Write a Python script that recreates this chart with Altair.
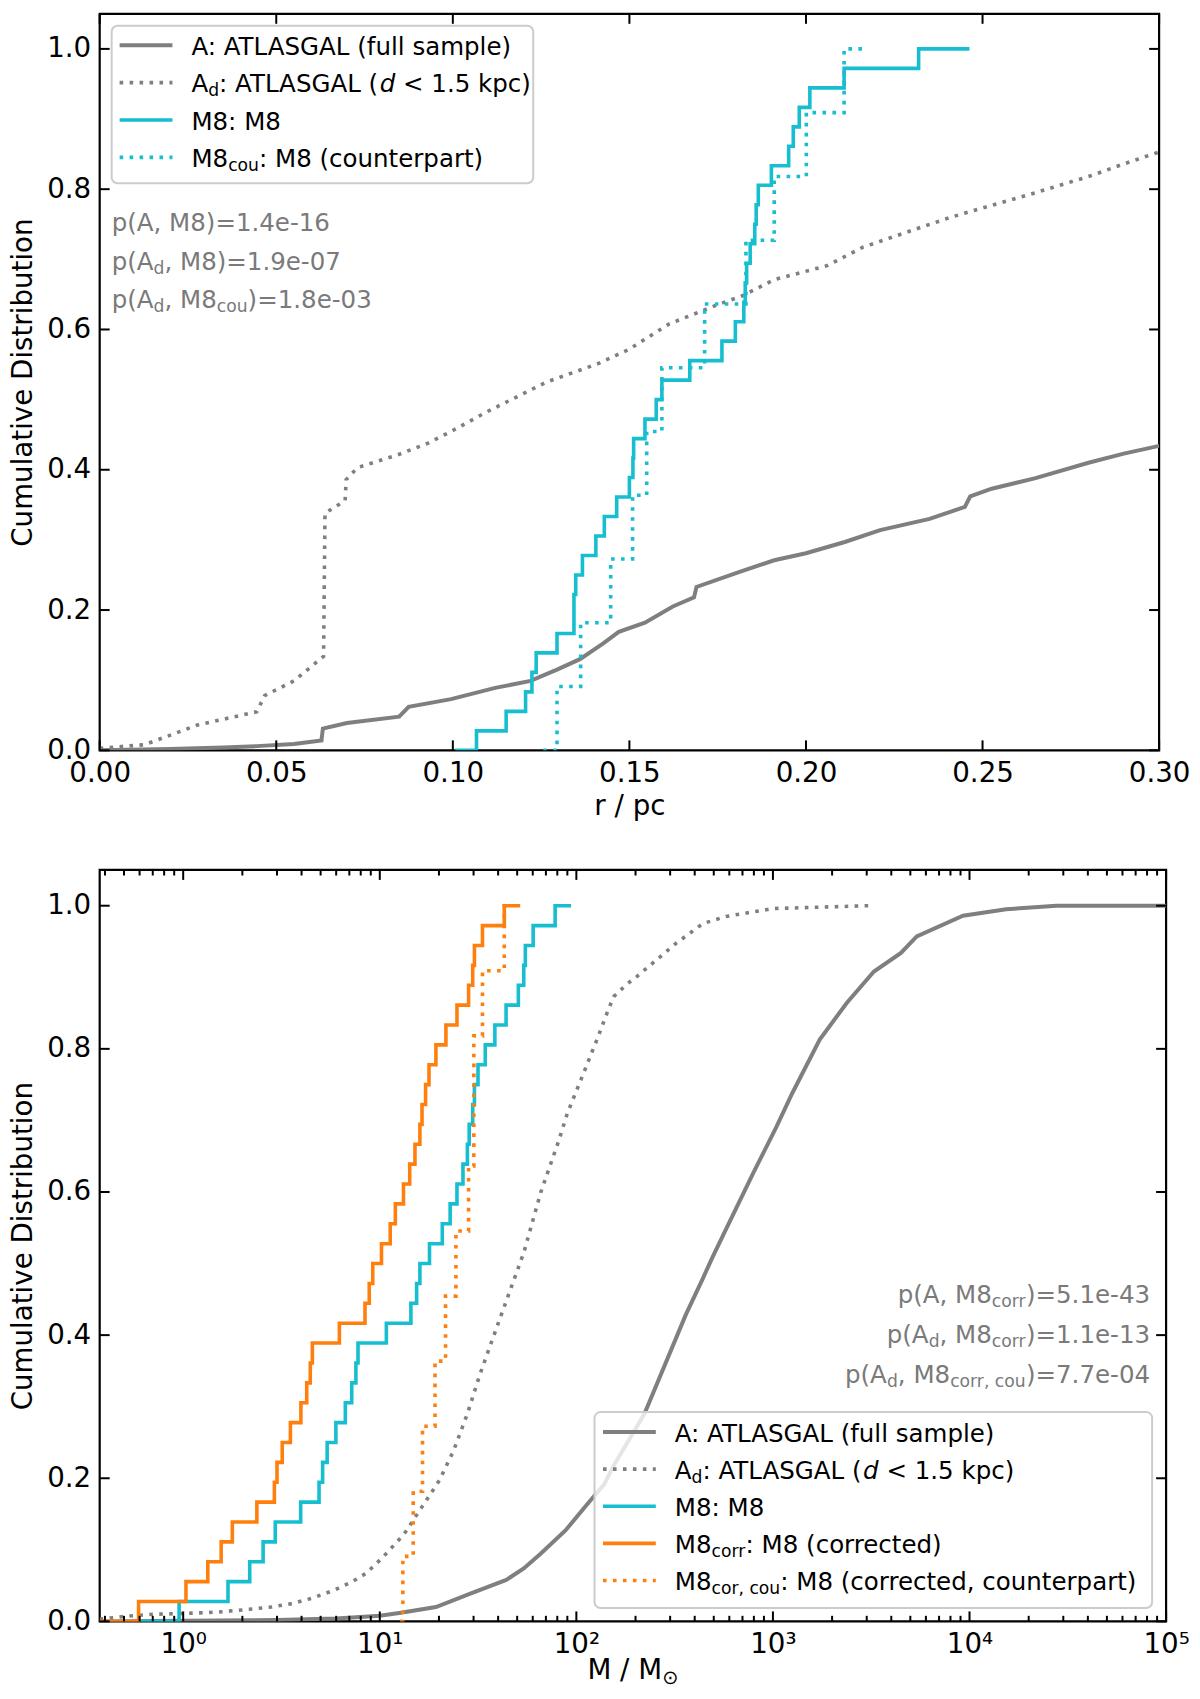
import altair as alt
import pandas as pd

# ── Colours / styles ────────────────────────────────────────────────────────
GRAY, CYAN, ORANGE = "#7f7f7f", "#17becf", "#ff7f0e"
PTEXT = "#7a7a7a"
DOT = [3.6, 6.4]
FONT = "DejaVu Sans"
LAB = 27.8   # tick labels / axis titles (px)
LEG = 24.6   # legend and p-value text (px)
LW, LWA = 3.6, 4.0

# ── Top panel: radius ───────────────────────────────────────────────────────
r_A = [0.0, 0.02, 0.035, 0.0445, 0.055, 0.0628, 0.0632, 0.070, 0.0848, 0.0875,
       0.0995, 0.112, 0.122, 0.1295, 0.136, 0.1425, 0.147, 0.1544, 0.1623, 0.1683,
       0.169, 0.181, 0.191, 0.200, 0.211, 0.221, 0.235, 0.245, 0.2465, 0.2526,
       0.265, 0.28, 0.29, 0.30]
cdf_rA = [0.0, 0.002, 0.004, 0.006, 0.009, 0.014, 0.031, 0.039, 0.048, 0.062,
          0.073, 0.089, 0.099, 0.115, 0.13, 0.152, 0.169, 0.182, 0.205, 0.218,
          0.233, 0.254, 0.271, 0.281, 0.297, 0.314, 0.330, 0.347, 0.362, 0.373,
          0.388, 0.41, 0.423, 0.434]

r_Ad = [0.0, 0.0127, 0.0276, 0.0445, 0.0467, 0.055, 0.0634, 0.0638, 0.0695, 0.0698,
        0.073, 0.0848, 0.093, 0.100, 0.1096, 0.1265, 0.1415, 0.150, 0.1613, 0.1743,
        0.182, 0.191, 0.206, 0.216, 0.231, 0.241, 0.2526, 0.265, 0.28, 0.29, 0.30]
cdf_rAd = [0.003, 0.008, 0.036, 0.055, 0.078, 0.099, 0.134, 0.338, 0.356, 0.386,
           0.403, 0.422, 0.438, 0.456, 0.4825, 0.525, 0.552, 0.572, 0.608, 0.634,
           0.648, 0.671, 0.691, 0.717, 0.743, 0.760, 0.777, 0.795, 0.818, 0.836, 0.853]

r_M8 = [0.1067, 0.1151, 0.1206, 0.1224, 0.1236, 0.1295, 0.1343, 0.1343, 0.1348,
        0.1367, 0.1405, 0.1429, 0.1464, 0.1500, 0.1510, 0.1512, 0.1544, 0.1576,
        0.1592, 0.1671, 0.1762, 0.1800, 0.1824, 0.1828, 0.1832, 0.1842, 0.1855,
        0.1859, 0.1865, 0.1902, 0.1951, 0.1964, 0.1981, 0.2011, 0.2108, 0.2319]
r_M8_span = [0.1007, 0.2463]
r_M8cou = [0.1295, 0.1362, 0.1447, 0.1509, 0.1549, 0.1592, 0.1713, 0.1830,
           0.1910, 0.2001, 0.2108]
r_M8cou_span = [0.1256, 0.2173]

# ── Bottom panel: mass ──────────────────────────────────────────────────────
m_A = [0.376, 1.0, 3.0, 6.0, 10.0, 12.8, 19.3, 29.1, 44, 54, 66, 88, 113, 139, 155,
       222, 361, 438, 491, 575, 796, 1046, 1254, 1730, 2373, 3265, 4480, 5390,
       9270, 15350, 27700, 100000]
cdf_mA = [0.0, 0.001, 0.002, 0.004, 0.008, 0.012, 0.020, 0.039, 0.058, 0.074,
          0.095, 0.127, 0.163, 0.192, 0.218, 0.290, 0.429, 0.478, 0.508, 0.547,
          0.627, 0.692, 0.738, 0.813, 0.864, 0.908, 0.934, 0.957, 0.986, 0.995,
          1.0, 1.0]

m_Ad = [0.376, 0.5, 0.7, 1.0, 1.5, 2.0, 2.8, 3.6, 4.6, 5.9, 7.2, 8.5, 10.4, 13.3,
        16.4, 20.1, 23.7, 27.9, 32.3, 38.8, 45.8, 54, 66, 81, 90, 107, 129, 145,
        155, 180, 203, 255, 320, 440, 577, 1000, 3055]
cdf_mAd = [0.003, 0.007, 0.010, 0.011, 0.013, 0.016, 0.020, 0.025, 0.033, 0.044,
           0.055, 0.067, 0.090, 0.122, 0.160, 0.197, 0.238, 0.290, 0.345, 0.406,
           0.461, 0.515, 0.600, 0.670, 0.710, 0.761, 0.817, 0.854, 0.873, 0.890,
           0.901, 0.924, 0.947, 0.975, 0.985, 0.996, 1.0]

m_M8 = [0.953, 1.69, 2.18, 2.55, 2.94, 3.96, 4.91, 5.12, 5.40, 5.98, 6.68, 7.20,
        7.56, 7.75, 10.8, 14.4, 15.4, 16.0, 17.9, 20.8, 22.8, 24.7, 26.5, 27.9,
        28.5, 29.7, 30.3, 31.6, 34.4, 38.5, 43.9, 50.7, 54.0, 55.0, 60.3, 78.0]
m_M8_span = [0.61, 94]
m_M8corr = [0.593, 1.033, 1.334, 1.56, 1.778, 2.37, 2.91, 3.0, 3.19, 3.51, 3.97,
            4.25, 4.43, 4.54, 6.23, 8.41, 8.84, 9.21, 10.2, 11.3, 12.0, 13.2, 14.2,
            15.1, 16.0, 16.4, 17.1, 17.8, 19.3, 21.7, 24.7, 28.3, 29.7, 30.3, 33.3, 43.0]
m_M8corr_span = [0.376, 51.8]
m_M8corrcou = [13.1, 14.8, 16.5, 19.1, 21.6, 24.4, 28.3, 30.1, 30.1, 33.3, 43.0]
m_M8corrcou_span = [12.7, 46.0]

# ── Ticks ───────────────────────────────────────────────────────────────────
r_ticks = [0.0, 0.05, 0.10, 0.15, 0.20, 0.25, 0.30]
cdf_ticks = [0.0, 0.2, 0.4, 0.6, 0.8, 1.0]
m_ticks = [1, 10, 100, 1000, 10000, 100000]
m_minor = [k * 10.0 ** e for e in range(-1, 5) for k in range(2, 10)
           if 0.376 <= k * 10.0 ** e < 1e5]

# DejaVu Sans advance widths (units/em = 2048), to place sub-/italic pieces
ADV = {" ": 651, "(": 799, ")": 799, ",": 651, "-": 739, ".": 651, "/": 690,
       ":": 690, "<": 1716, "=": 1716, "A": 1401, "G": 1589, "L": 1141, "M": 1767,
       "S": 1300, "T": 1251, "a": 1255, "c": 1126, "d": 1300, "e": 1260, "f": 721,
       "k": 1186, "l": 569, "m": 1995, "n": 1298, "o": 1253, "p": 1300, "r": 842,
       "s": 1067, "t": 803, "u": 1298, "i": 569, "\u2299": 1716}
for ch in "0123456789":
    ADV[ch] = 1303


def tw(s, size):
    return sum(ADV.get(c, 1300) for c in s) * size / 2048


def rich(pieces, x, y, size, color, anchor="left"):
    """pieces: (text, kind) with kind n=normal, s=subscript, i=italic"""
    sizes = [size * 0.7 if k == "s" else size for _, k in pieces]
    if anchor == "right":
        x -= sum(tw(t, fs) for (t, _), fs in zip(pieces, sizes))
    rows = []
    for (t, k), fs in zip(pieces, sizes):
        lead = len(t) - len(t.lstrip(" "))
        x += tw(" " * lead, fs)
        t = t.lstrip(" ")
        rows.append(dict(px=x, py=y + (0.16 * size if k == "s" else 0), text=t,
                         size=fs, color=color, italic=(k == "i")))
        x += tw(t, fs)
    return rows


def curve(xs, ys, color, width, X, Y, dash=None, step=False):
    df = pd.DataFrame({"x": xs, "y": ys, "i": range(len(xs))})
    kw = dict(color=color, strokeWidth=width, clip=True,
              interpolate="step-after" if step else "linear")
    if dash:
        kw.update(strokeDash=dash, strokeCap="butt")
    return alt.Chart(df).mark_line(**kw).encode(x=X("x"), y=Y("y"), order="i:Q")


def ecdf(vals, span, color, width, X, Y, dash=None):
    n = len(vals)
    xs = [span[0]] + sorted(vals) + [span[1]]
    ys = [0.0] + [(k + 1) / n for k in range(n)] + [1.0]
    return curve(xs, ys, color, width, X, Y, dash=dash, step=True)


def frame_ticks(xvals, yvals, X, Y, W, H, L):
    rule = dict(color="black", strokeWidth=2)
    out = []
    if xvals:
        dx = alt.Chart(pd.DataFrame({"x": xvals}))
        out += [dx.mark_rule(**rule).encode(x=X("x"), y=alt.value(H), y2=alt.value(H - L)),
                dx.mark_rule(**rule).encode(x=X("x"), y=alt.value(0), y2=alt.value(L))]
    if yvals:
        dy = alt.Chart(pd.DataFrame({"y": yvals}))
        out += [dy.mark_rule(**rule).encode(y=Y("y"), x=alt.value(0), x2=alt.value(L)),
                dy.mark_rule(**rule).encode(y=Y("y"), x=alt.value(W), x2=alt.value(W - L))]
    return out


one = alt.Chart(pd.DataFrame({"a": [0]}))


def legend(box, x1, x2, yc0, step, styles):
    out = [one.mark_rect(fill="white", fillOpacity=0.8, stroke="#cccccc",
                         strokeWidth=2, cornerRadius=6).encode(
        x=alt.value(box[0]), x2=alt.value(box[2]), y=alt.value(box[1]), y2=alt.value(box[3]))]
    for k, (c, w, d) in enumerate(styles):
        kw = dict(color=c, strokeWidth=w)
        if d:
            kw.update(strokeDash=d, strokeCap="butt")
        out.append(one.mark_rule(**kw).encode(
            x=alt.value(x1), x2=alt.value(x2), y=alt.value(yc0 + k * step)))
    return out


def texts(rows):
    return [one.mark_text(align="left", baseline="alphabetic", font=FONT,
                          fontStyle="italic" if r["italic"] else "normal",
                          fontSize=r["size"], color=r["color"]).encode(
        x=alt.value(r["px"]), y=alt.value(r["py"]), text=alt.value(r["text"]))
        for r in rows]


AX = dict(ticks=False, domain=False, grid=False, labelFlush=False, labelOverlap=False)
YS = alt.Scale(domain=[0, 1.05], nice=False, zero=False)
ax_y = alt.Axis(values=cdf_ticks, format=".1f", title="Cumulative Distribution",
                labelPadding=9, titlePadding=9, **AX)


def Y(f):
    return alt.Y(f"{f}:Q", scale=YS, axis=ax_y)


# ── Top chart ───────────────────────────────────────────────────────────────
W1, H1 = 1063, 739
XR = alt.Scale(domain=[0, 0.30], nice=False, zero=False)
ax_r = alt.Axis(values=r_ticks, format=".2f", title="r / pc",
                labelPadding=9, titlePadding=6, **AX)


def XRe(f):
    return alt.X(f"{f}:Q", scale=XR, axis=ax_r)


ad_lbl = [("A", "n"), ("d", "s"), (": ATLASGAL (", "n"), ("d", "i"), (" < 1.5 kpc)", "n")]
rows_top = []
top_entries = [[("A: ATLASGAL (full sample)", "n")], ad_lbl, [("M8: M8", "n")],
               [("M8", "n"), ("cou", "s"), (": M8 (counterpart)", "n")]]
for k, e in enumerate(top_entries):
    rows_top += rich(e, 92, 31.5 + 37.5 * k + 9.6, LEG, "black")
top_p = [[("p(A, M8)=1.4e-16", "n")],
         [("p(A", "n"), ("d", "s"), (", M8)=1.9e-07", "n")],
         [("p(A", "n"), ("d", "s"), (", M8", "n"), ("cou", "s"), (")=1.8e-03", "n")]]
for k, e in enumerate(top_p):
    rows_top += rich(e, 12, 218 + 38.7 * k, LEG, PTEXT)

top = alt.layer(
    curve(r_A, cdf_rA, GRAY, LWA, XRe, Y),
    curve(r_Ad, cdf_rAd, GRAY, LW, XRe, Y, dash=DOT),
    ecdf(r_M8, r_M8_span, CYAN, LW, XRe, Y),
    ecdf(r_M8cou, r_M8cou_span, CYAN, LW, XRe, Y, dash=DOT),
    *frame_ticks(r_ticks, cdf_ticks, XRe, Y, W1, H1, 10),
    *legend((12, 12, 435, 170), 20, 73, 31.5, 37.5,
            [(GRAY, LWA, None), (GRAY, LW, DOT), (CYAN, LW, None), (CYAN, LW, DOT)]),
    *texts(rows_top),
).properties(width=W1, height=H1)

# ── Bottom chart ────────────────────────────────────────────────────────────
W2, H2 = 1070, 754
XM = alt.Scale(type="log", domain=[0.376, 1e5], nice=False)
ax_m = alt.Axis(values=m_ticks, title=None, labelPadding=9,
                labelExpr="'10' + ['\u2070','\u00b9','\u00b2','\u00b3','\u2074','\u2075'][round(log(datum.value)/LN10)]",
                **AX)


def XMe(f):
    return alt.X(f"{f}:Q", scale=XM, axis=ax_m)


rows_bot = []
bot_entries = [[("A: ATLASGAL (full sample)", "n")], ad_lbl, [("M8: M8", "n")],
               [("M8", "n"), ("corr", "s"), (": M8 (corrected)", "n")],
               [("M8", "n"), ("cor, cou", "s"), (": M8 (corrected, counterpart)", "n")]]
leg_top, leg_left = H2 - 210, W2 - 573.5
for k, e in enumerate(bot_entries):
    rows_bot += rich(e, leg_left + 80.5, leg_top + 20 + 37.25 * k + 9.6, LEG, "black")
bot_p = [[("p(A, M8", "n"), ("corr", "s"), (")=5.1e-43", "n")],
         [("p(A", "n"), ("d", "s"), (", M8", "n"), ("corr", "s"), (")=1.1e-13", "n")],
         [("p(A", "n"), ("d", "s"), (", M8", "n"), ("corr, cou", "s"), (")=7.7e-04", "n")]]
for k, e in enumerate(bot_p):
    rows_bot += rich(e, W2 - 16, H2 - 319 + 40 * k, LEG, PTEXT, anchor="right")
xt = [("M / M", "n"), ("\u2299", "s")]
xt_w = tw("M / M", LAB) + tw("\u2299", LAB * 0.7)
rows_bot += rich(xt, W2 / 2 - xt_w / 2, H2 + 58, LAB, "black")

bottom = alt.layer(
    curve(m_A, cdf_mA, GRAY, LWA, XMe, Y),
    curve(m_Ad, cdf_mAd, GRAY, LW, XMe, Y, dash=DOT),
    ecdf(m_M8, m_M8_span, CYAN, LW, XMe, Y),
    ecdf(m_M8corr, m_M8corr_span, ORANGE, LW, XMe, Y),
    ecdf(m_M8corrcou, m_M8corrcou_span, ORANGE, LW, XMe, Y, dash=DOT),
    *frame_ticks(m_ticks, cdf_ticks, XMe, Y, W2, H2, 10),
    *frame_ticks(m_minor, [], XMe, Y, W2, H2, 5.6),
    *legend((leg_left, leg_top, W2 - 14, H2 - 13.5), leg_left + 8.5, leg_left + 61.5,
            leg_top + 20, 37.25,
            [(GRAY, LWA, None), (GRAY, LW, DOT), (CYAN, LW, None),
             (ORANGE, LW, None), (ORANGE, LW, DOT)]),
    *texts(rows_bot),
).properties(width=W2, height=H2)

chart = (
    alt.vconcat(top, bottom, spacing=45)
    .properties(padding=0)
    .configure_view(stroke="black", strokeWidth=2.2)
    .configure_axis(labelFont=FONT, labelFontSize=LAB, labelColor="black",
                    titleFont=FONT, titleFontSize=LAB, titleFontWeight="normal",
                    titleColor="black")
)

chart.save("out.html", embed_options={"renderer": "svg", "actions": False})
